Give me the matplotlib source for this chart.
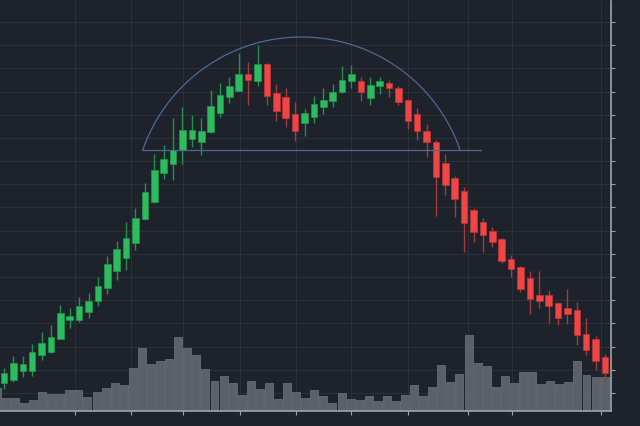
import matplotlib.pyplot as plt
import numpy as np

#ローソク足データ (価格は任意単位)
opens = [28, 31, 40, 40, 56, 59, 72, 91, 91, 99,
         110, 123, 140, 153, 168, 192, 209, 238, 247, 261,
         272, 269, 279, 298, 314, 320, 337, 330, 347, 318,
         314, 297, 288, 294, 304, 310, 319, 330, 330, 313,
         325, 328, 323, 311, 297, 280, 269, 248, 233, 220,
         201, 189, 180, 172, 152, 144, 133, 116, 116, 108,
         103, 101, 77, 72, 54]
closes = [38, 48, 47, 59, 68, 74, 98, 95, 105, 110,
          125, 147, 162, 173, 193, 219, 241, 252, 261, 281,
          281, 280, 305, 316, 325, 337, 331, 347, 315, 300,
          293, 280, 298, 307, 311, 319, 331, 337, 319, 326,
          330, 323, 309, 290, 280, 269, 234, 226, 212, 188,
          179, 176, 169, 150, 142, 122, 112, 110, 105, 93,
          97, 76, 61, 50, 38]
highs = [43, 55, 55, 67, 79, 86, 106, 103, 114, 118,
         134, 155, 170, 189, 203, 228, 257, 266, 293, 304,
         296, 293, 321, 328, 334, 358, 349, 366, 348, 327,
         323, 309, 302, 315, 323, 327, 345, 346, 334, 334,
         334, 331, 325, 312, 303, 287, 271, 257, 235, 224,
         203, 193, 184, 173, 156, 145, 140, 140, 121, 109,
         122, 109, 93, 75, 57]
lows = [22, 29, 34, 35, 51, 58, 72, 83, 89, 93,
        105, 117, 131, 141, 161, 191, 208, 232, 231, 247,
        264, 256, 278, 294, 308, 320, 306, 325, 306, 290,
        284, 270, 275, 288, 297, 304, 318, 323, 310, 306,
        317, 314, 306, 282, 271, 254, 195, 216, 194, 159,
        169, 159, 164, 148, 134, 119, 97, 103, 88, 86,
        87, 66, 56, 41, 29]

#出来高
volumes = [23, 12.7, 12.7, 8, 11.3, 19.3, 16.7, 16.7, 21, 20.7,
           14, 19.3, 23.3, 28.3, 26.3, 43, 63, 47.3, 50, 52.3,
           74.3, 63, 55.7, 42.3, 29.7, 35, 28, 15.7, 29.7, 22.3,
           28, 12, 28.3, 19.3, 12.7, 20.7, 15.3, 8.3, 18, 12,
           11, 15, 10.3, 15, 10.3, 15.7, 26.3, 14.7, 24, 46,
           29.3, 37, 76, 48, 45, 24.3, 34.7, 27.7, 38.7, 38.7,
           27.3, 30, 26.7, 29, 49.7, 36, 34, 34]

#目盛り
x_ticks = [7.56, 13.5, 19.06, 25.1, 31.1, 36.95, 43.0, 49.4, 54.1, 63.6]
y_ticks = np.arange(18, 400, 23.19)

#ネックラインとアーチ
neck_y = 260.7
neck_x0, neck_x1 = 14.77, 50.8
arc_cx, arc_cy = 31.67, 206.1
arc_rx, arc_ry = 17.88, 167.9
arc_t0, arc_t1 = 19.08, 160.92

bg = '#1e222a'
grid_c = '#2a2f39'
axis_c = '#a0a4ab'
pattern_c = '#4d6a96'

fig = plt.figure(figsize=(6.4, 4.27), dpi=100)
fig.patch.set_facecolor(bg)
rect = [0, 15 / 427, 611 / 640, 410 / 427]
x_lim = (-0.43, 64.64)
y_lim = (0, 410)

### グリッド (一番下)
gax = fig.add_axes(rect)
gax.set_facecolor(bg)
gax.set_xlim(x_lim)
gax.set_ylim(y_lim)
gax.set_xticks(x_ticks)
gax.set_yticks(y_ticks)
gax.grid(color=grid_c, linewidth=0.8)
gax.tick_params(length=0, labelbottom=False, labelleft=False)
for s in gax.spines.values():
    s.set_visible(False)

### 出来高
vax = fig.add_axes(rect)
vax.set_facecolor('none')
vx = np.arange(len(volumes))
vax.bar(vx, volumes, width=0.88, color='#5b6069', edgecolor='#676d76', linewidth=0.6)
vax.set_xlim(0.36, 67.7)
vax.set_ylim(y_lim)
vax.set_xticks([])
vax.set_yticks([])
for s in vax.spines.values():
    s.set_visible(False)

### ローソク足
ax = fig.add_axes(rect)
ax.set_facecolor('none')
x = np.arange(len(opens))
for i in x:
    o, c, h, l = opens[i], closes[i], highs[i], lows[i]
    if c >= o:
        body, edge, wick = '#2dbb5d', '#23994b', '#279050'
    else:
        body, edge, wick = '#ef4545', '#c23535', '#a63b3b'
    ax.vlines(i, l, h, color=wick, linewidth=1.0, zorder=2)
    ax.bar(i, abs(c - o), bottom=min(o, c), width=0.7, color=body,
           edgecolor=edge, linewidth=0.5, zorder=3)

#パターン
ax.plot([neck_x0, neck_x1], [neck_y, neck_y], color=pattern_c, linewidth=0.9, zorder=4)
t = np.radians(np.linspace(arc_t0, arc_t1, 200))
ax.plot(arc_cx + arc_rx * np.cos(t), arc_cy + arc_ry * np.sin(t),
        color=pattern_c, linewidth=0.9, zorder=4)

ax.set_xlim(x_lim)
ax.set_ylim(y_lim)
ax.set_xticks(x_ticks)
ax.set_yticks(y_ticks)
ax.yaxis.tick_right()
ax.tick_params(axis='both', colors=axis_c, length=3, width=0.8,
               labelright=False, labelbottom=False, labelleft=False)
ax.spines['left'].set_visible(False)
ax.spines['top'].set_visible(False)
ax.spines['right'].set_color(axis_c)
ax.spines['bottom'].set_color(axis_c)
ax.spines['right'].set_linewidth(1.2)
ax.spines['bottom'].set_linewidth(1.2)

fig.savefig('out.png', dpi=100, facecolor=bg)
